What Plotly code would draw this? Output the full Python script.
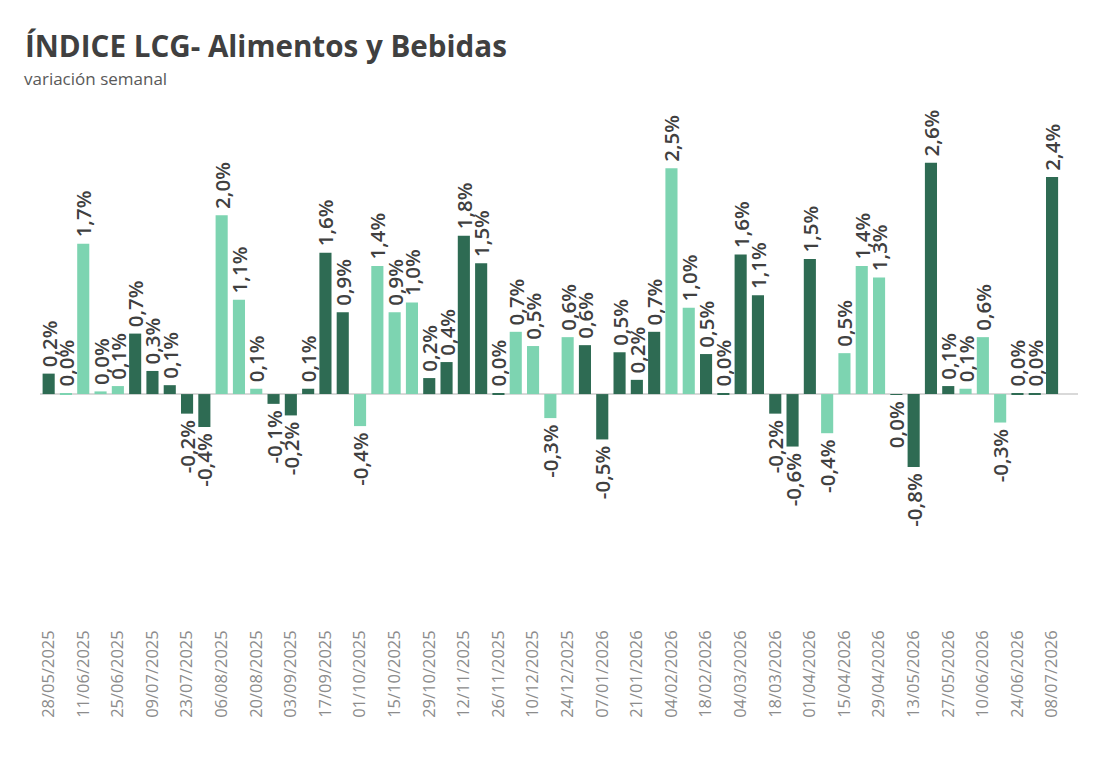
import plotly.graph_objects as go
import datetime as dt

# Weekly dates (category labels)
start = dt.date(2025, 5, 28)
dates = [(start + dt.timedelta(weeks=i)).strftime("%d/%m/%Y") for i in range(59)]

values = [
    0.23, 0.01, 1.69, 0.03, 0.09, 0.68, 0.26, 0.10, -0.22, -0.37,
    2.01, 1.06, 0.06, -0.11, -0.24, 0.06, 1.59, 0.92, -0.36, 1.44,
    0.92, 1.03, 0.18, 0.36, 1.78, 1.47, 0.01, 0.70, 0.54, -0.27,
    0.64, 0.55, -0.51, 0.47, 0.16, 0.70, 2.54, 0.97, 0.45, 0.01,
    1.57, 1.11, -0.22, -0.59, 1.52, -0.44, 0.46, 1.44, 1.31, -0.01,
    -0.82, 2.60, 0.09, 0.06, 0.64, -0.32, 0.01, 0.01, 2.44,
]

# 'D' = dark green, 'L' = light green
shades = [
    "D", "L", "L", "L", "L", "D", "D", "D", "D", "D",
    "L", "L", "L", "D", "D", "D", "D", "D", "L", "L",
    "L", "L", "D", "D", "D", "D", "D", "L", "L", "L",
    "L", "D", "D", "D", "D", "D", "L", "L", "D", "D",
    "D", "D", "D", "D", "D", "L", "L", "L", "L", "D",
    "D", "D", "D", "L", "L", "L", "D", "D", "D",
]

DARK = "#2e6b53"
LIGHT = "#7dd4b1"
colors = [DARK if s == "D" else LIGHT for s in shades]

PAD = "\u2009"


def fmt(v):
    r = round(v, 1) + 0.0
    s = f"{r:.1f}".replace(".", ",") + "%"
    return PAD + s if v >= 0 else s + PAD


texts = [fmt(v) for v in values]

fig = go.Figure(
    go.Bar(
        x=dates,
        y=values,
        marker=dict(color=colors, line=dict(width=0)),
        text=texts,
        textposition="outside",
        textangle=-90,
        constraintext="none",
        textfont=dict(family="Open Sans", size=20.5, color="#404040", weight=600),
        cliponaxis=False,
        hoverinfo="x+y",
    )
)

fig.update_layout(
    width=1102,
    height=773,
    paper_bgcolor="white",
    plot_bgcolor="white",
    margin=dict(l=40, r=24, t=105, b=153),
    bargap=0.3,
    showlegend=False,
    font=dict(family="Open Sans"),
    annotations=[
        dict(
            text="<b>ÍNDICE LCG- Alimentos y Bebidas</b>",
            xref="paper", yref="paper",
            x=-0.016, y=1.0 + (105 - 45) / 515,
            xanchor="left", yanchor="middle",
            showarrow=False,
            font=dict(family="Open Sans", size=29.6, color="#404040"),
        ),
        dict(
            text="variación semanal",
            xref="paper", yref="paper",
            x=-0.017, y=1.0 + (105 - 78) / 515,
            xanchor="left", yanchor="middle",
            showarrow=False,
            font=dict(family="Open Sans", size=17, color="#595959"),
        ),
    ],
)

fig.update_xaxes(
    type="category",
    range=[-0.5, 59.5],
    tickmode="array",
    tickvals=dates[::2],
    ticktext=dates[::2],
    tickangle=-90,
    tickfont=dict(family="Open Sans", size=16.5, color="#8c8c8c"),
    showgrid=False,
    showline=False,
    ticks="",
    ticklabelstandoff=6,
)

fig.update_yaxes(
    range=[-2.54, 3.25],
    showgrid=False,
    showticklabels=False,
    zeroline=True,
    zerolinecolor="#d9d9d9",
    zerolinewidth=1.5,
    ticks="",
)

fig.write_html("out.html")
